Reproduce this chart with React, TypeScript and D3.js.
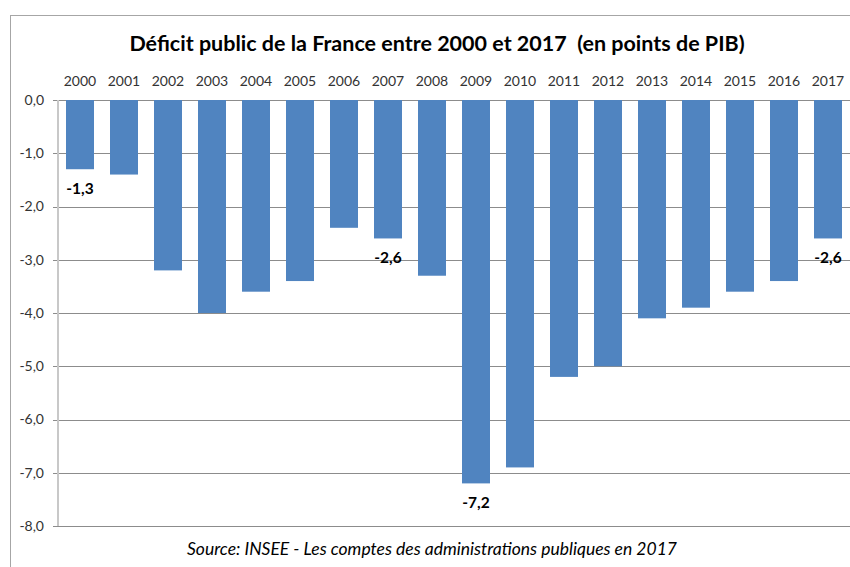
import * as React from 'react'
import * as d3 from 'd3'

const years = ['2000', '2001', '2002', '2003', '2004', '2005', '2006', '2007', '2008',
    '2009', '2010', '2011', '2012', '2013', '2014', '2015', '2016', '2017']
const deficit = [-1.3, -1.4, -3.2, -4.0, -3.6, -3.4, -2.4, -2.6, -3.3,
    -7.2, -6.9, -5.2, -5.0, -4.1, -3.9, -3.6, -3.4, -2.6]
const labelled = ['2000', '2007', '2009', '2017']
const yTicks = [0, -1, -2, -3, -4, -5, -6, -7, -8]

const W = 850
const H = 567
const margin = { left: 58, right: 0, top: 100, bottom: 41 }
const font = 'Lato, "Open Sans", sans-serif'

const fmt = (v: number) => v.toFixed(1).replace('.', ',')

export default function App() {
    React.useEffect(() => {
        document.body.style.margin = '0'
    }, [])

    const x = d3.scaleBand<string>()
        .domain(years)
        .range([margin.left, W - margin.right])
        .paddingInner(0.364)
        .paddingOuter(0.182)
    const y = d3.scaleLinear()
        .domain([0, -8])
        .range([margin.top, H - margin.bottom])

    return <svg width={W} height={H} style={{ display: 'block' }} fontFamily={font}>
        <rect x={10.5} y={15.5} width={W + 10} height={H + 10} fill='white' stroke='#a6a6a6' />
        <text x={437} y={51} textAnchor='middle' fontSize={21.5} fontWeight='bold' fill='#000'
            style={{ whiteSpace: 'pre' }}>
            {'Déficit public de la France entre 2000 et 2017  (en points de PIB)'}
        </text>
        {/* grid */}
        {yTicks.map(t => (
            <g key={t}>
                <line x1={margin.left - 5} x2={W} y1={Math.round(y(t)) + 0.5} y2={Math.round(y(t)) + 0.5}
                    stroke='#8c8c8c' />
                <text x={44} y={y(t)} dy='0.35em' textAnchor='end' fontSize={14} fill='#333'>
                    {fmt(t)}
                </text>
            </g>
        ))}
        {/* bars */}
        {years.map((yr, i) => (
            <rect key={yr} x={x(yr)} y={y(0)} width={x.bandwidth()} height={y(deficit[i]) - y(0)}
                fill='#5084c0' />
        ))}
        <line x1={margin.left} x2={margin.left} y1={y(0)} y2={y(-8)} stroke='#c8c8c8' strokeWidth={2} />
        {/* year labels */}
        {years.map(yr => (
            <text key={yr} x={x(yr)! + x.bandwidth() / 2} y={86} textAnchor='middle' fontSize={14} fill='#333'>
                {yr}
            </text>
        ))}
        {/* data labels */}
        {years.map((yr, i) => labelled.includes(yr) ? (
            <text key={yr} x={x(yr)! + x.bandwidth() / 2} y={y(deficit[i]) + 19} dy='0.35em'
                textAnchor='middle' fontSize={15.5} fontWeight='bold' fill='#000'>
                {fmt(deficit[i])}
            </text>
        ) : null)}
        <text x={432} y={555} textAnchor='middle' fontSize={17.5} fontStyle='italic' fill='#000'>
            Source: INSEE - Les comptes des administrations publiques en 2017
        </text>
    </svg>
}
